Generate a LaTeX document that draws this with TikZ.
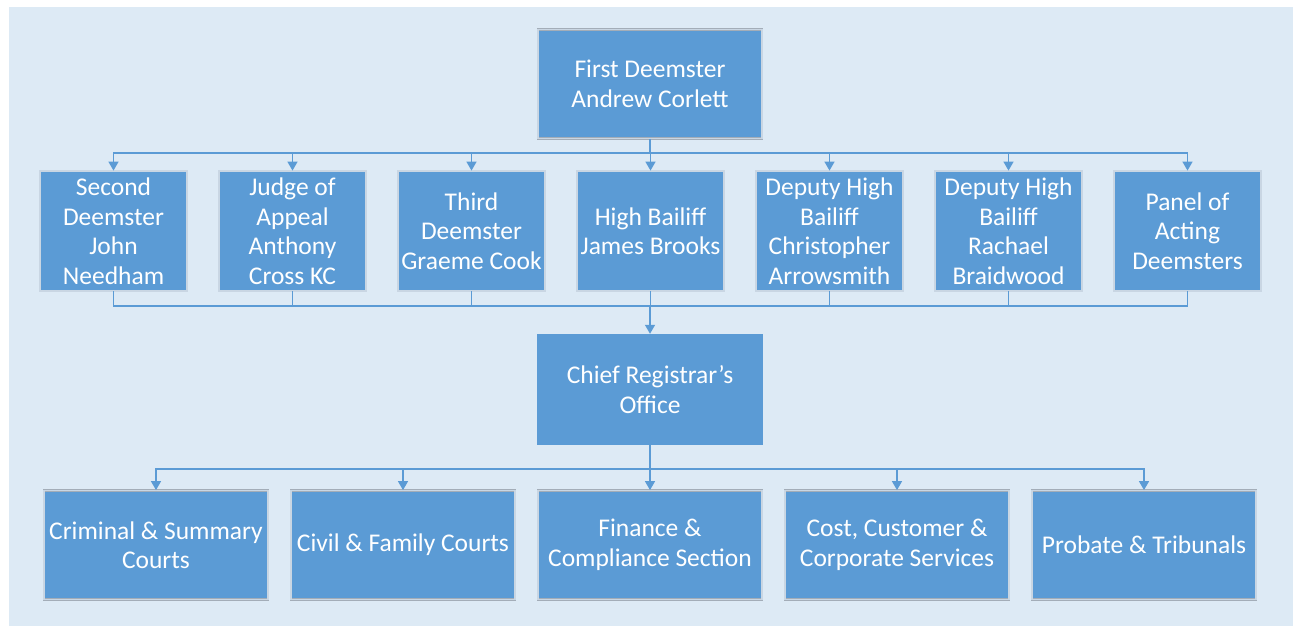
\documentclass[tikz,border=0pt]{standalone}
\usepackage{fontspec}
\setmainfont{Carlito}
\usetikzlibrary{arrows.meta}
\definecolor{bgblue}{HTML}{DDEAF5}
\definecolor{boxblue}{HTML}{5B9BD5}
\definecolor{edgegray}{HTML}{A3ADB8}
\definecolor{edgelight}{HTML}{C9D6E3}
\definecolor{linkblue}{HTML}{5B9BD5}
\begin{document}
\begin{tikzpicture}[x=1pt,y=-1pt,
  box/.style={fill=boxblue, draw=edgegray, line width=0.8pt, double=edgelight, double distance=1.2pt,
    text=white, align=center, inner sep=0pt, font=\fontsize{25.5}{29.5}\selectfont},
  plainbox/.style={fill=boxblue, draw=none, text=white, align=center, inner sep=0pt,
    font=\fontsize{25.5}{29.5}\selectfont},
  wide/.style={minimum width=224pt, minimum height=109pt},
  narrow/.style={minimum width=147pt, minimum height=120pt},
  conn/.style={draw=linkblue, line width=1.4pt},
  arr/.style={conn, -{Triangle[width=10pt,length=9pt]}}]
\useasboundingbox (0,0) rectangle (1293,626);
\fill[white] (0,0) rectangle (1293,626);
\fill[bgblue] (9,7) rectangle (1293,626);

\node[box,wide] (top) at (650,84) {First Deemster\\Andrew Corlett};

\node[box,narrow] (c1) at (113.5,231) {Second\\Deemster\\John\\Needham};
\node[box,narrow] (c2) at (292.5,231) {Judge of\\Appeal\\Anthony\\Cross KC};
\node[box,narrow] (c3) at (471.5,231) {Third\\Deemster\\Graeme Cook};
\node[box,narrow] (c4) at (650.5,231) {High Bailiff\\James Brooks};
\node[box,narrow] (c5) at (829.5,231) {Deputy High\\Bailiff\\Christopher\\Arrowsmith};
\node[box,narrow] (c6) at (1008.5,231) {Deputy High\\Bailiff\\Rachael\\Braidwood};
\node[box,narrow] (c7) at (1187.5,231) {Panel of\\Acting\\Deemsters};

\node[plainbox,minimum width=226pt,minimum height=111pt] (chief) at (650,389.5) {Chief Registrar’s\\Office};

\node[box,wide] (d1) at (156,545) {Criminal \& Summary\\Courts};
\node[box,wide] (d2) at (403,545) {Civil \& Family Courts};
\node[box,wide] (d3) at (650,545) {Finance \&\\Compliance Section};
\node[box,wide] (d4) at (897,545) {Cost, Customer \&\\Corporate Services};
\node[box,wide] (d5) at (1144,545) {Probate \& Tribunals};

\coordinate (b1) at (650,153);
\coordinate (b2) at (650,306);
\coordinate (b3) at (650,469);

\draw[conn] (top.south) -- (b1);
\foreach \n in {c1,c2,c3,c4,c5,c6,c7}{
  \draw[arr] (b1) -| (\n.north);
}
\foreach \n in {c1,c2,c3,c4,c5,c6,c7}{
  \draw[conn] (\n.south) |- (b2);
}
\draw[arr] (b2) -- (chief.north);
\draw[conn] (chief.south) -- (b3);
\foreach \n in {d1,d2,d3,d4,d5}{
  \draw[arr] (b3) -| (\n.north);
}
\end{tikzpicture}
\end{document}
